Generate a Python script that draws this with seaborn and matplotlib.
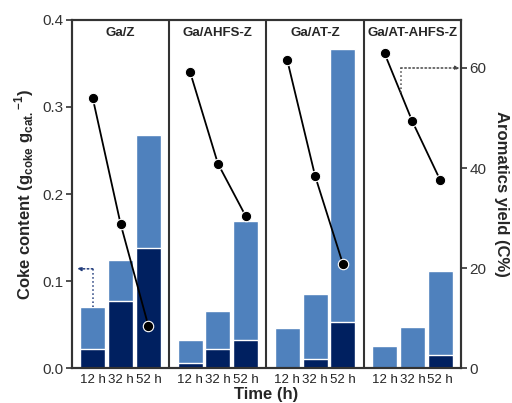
import numpy as np
import pandas as pd
import matplotlib
matplotlib.use("Agg")
import matplotlib.pyplot as plt
import seaborn as sns

catalysts = ["Ga/Z", "Ga/AHFS-Z", "Ga/AT-Z", "Ga/AT-AHFS-Z"]
times = ["12 h", "32 h", "52 h"]
coke_total = [[0.0705, 0.124, 0.268],
              [0.032, 0.066, 0.169],
              [0.046, 0.085, 0.367],
              [0.025, 0.047, 0.1115]]
coke_hard = [[0.022, 0.077, 0.138],
             [0.006, 0.022, 0.032],
             [0.0, 0.010, 0.053],
             [0.0, 0.0, 0.015]]
aromatics = [[53.9, 28.8, 8.4],
             [59.2, 40.9, 30.4],
             [61.5, 38.4, 20.8],
             [62.9, 49.3, 37.6]]

sns.set_theme(style="white")
plt.rcParams['font.family'] = ['Liberation Sans', 'DejaVu Sans']
plt.rcParams['mathtext.fontset'] = 'custom'
plt.rcParams['mathtext.rm'] = 'Liberation Sans'
plt.rcParams['mathtext.bf'] = 'Liberation Sans:bold'

light = "#4F81BD"
dark = "#002060"
gap = 3.5
rows = []
for i, c in enumerate(catalysts):
    for j, t in enumerate(times):
        rows.append(dict(cat=c, time=t, pos=i * gap + j,
                         total=coke_total[i][j], hard=coke_hard[i][j],
                         arom=aromatics[i][j]))
df = pd.DataFrame(rows)

fig = plt.figure(figsize=(5.12, 4.03), dpi=100)
ax = fig.add_axes([0.1406, 0.0868, 0.7598, 0.8636])
sns.barplot(data=df, x="pos", y="total", native_scale=True, width=0.9,
            color=light, saturation=1, edgecolor="white", linewidth=1, ax=ax)
sns.barplot(data=df, x="pos", y="hard", native_scale=True, width=0.9,
            color=dark, saturation=1, edgecolor="white", linewidth=1, ax=ax)
xmin, xmax = -0.75, 4 * gap - 0.75
ax.set_xlim(xmin, xmax)
ax.set_ylim(0, 0.4)
ax.set_yticks([0, 0.1, 0.2, 0.3, 0.4])
ax.set_yticklabels(["0.0", "0.1", "0.2", "0.3", "0.4"], fontsize=11, color="#333333")
ax.set_xticks(df["pos"])
ax.set_xticklabels(df["time"], fontsize=9.5, color="#222222")
ax.tick_params(axis="x", length=0, pad=4)
ax.tick_params(axis="y", direction="out", length=4, width=1.2, color="#333333", left=True, pad=2)
ax.set_xlabel("Time (h)", fontsize=12, fontweight="bold", labelpad=1)
ax.set_ylabel(r"Coke content (g$_{\mathbf{coke}}$ g$_{\mathbf{cat.}}$$^{\mathbf{-1}}$)",
              fontsize=12, fontweight="bold", labelpad=5)
for s in ax.spines.values():
    s.set_linewidth(1.5)
    s.set_color("#333333")
for i in range(1, 4):
    ax.axvline(i * gap - 0.75, color="#333333", lw=1.5)
for i, c in enumerate(catalysts):
    ax.text(i * gap + 1, 0.962, c, transform=ax.get_xaxis_transform(),
            ha="center", va="center", fontsize=9.5, fontweight="bold")

ax2 = ax.twinx()
sns.lineplot(data=df, x="pos", y="arom", units="cat", estimator=None,
             color="black", lw=1.3, marker="o", markersize=7.5,
             markeredgecolor="white", markeredgewidth=0.8, ax=ax2)
ax2.set_ylim(0, 69.6)
ax2.set_yticks([0, 20, 40, 60])
ax2.set_yticklabels(["0", "20", "40", "60"], fontsize=11, color="#333333")
ax2.tick_params(axis="y", direction="out", length=4, width=1.2, color="#333333", right=True, pad=2)
ax2.set_ylabel("Aromatics yield (C%)", fontsize=12, fontweight="bold",
               rotation=270, labelpad=16)
ax2.set_xlim(xmin, xmax)
for s in ax2.spines.values():
    s.set_linewidth(1.5)
    s.set_color("#333333")

# dotted arrows
ax.plot([0, 0], [coke_total[0][0], 0.114], ls=":", color="#1F3A7A", lw=1.1)
ax.annotate("", xy=(-0.57, 0.114), xytext=(0, 0.114),
            arrowprops=dict(arrowstyle="-|>", ls=":", color="#1F3A7A", lw=1.1,
                            mutation_scale=6, shrinkA=0, shrinkB=0))
ax2.plot([11.08, 11.08], [55.0, 60], ls=":", color="#444444", lw=1.1)
ax2.annotate("", xy=(xmax - 0.05, 60), xytext=(11.08, 60),
             arrowprops=dict(arrowstyle="-|>", ls=":", color="#444444", lw=1.1,
                             mutation_scale=6, shrinkA=0, shrinkB=0))

fig.savefig("out.png", dpi=100)
